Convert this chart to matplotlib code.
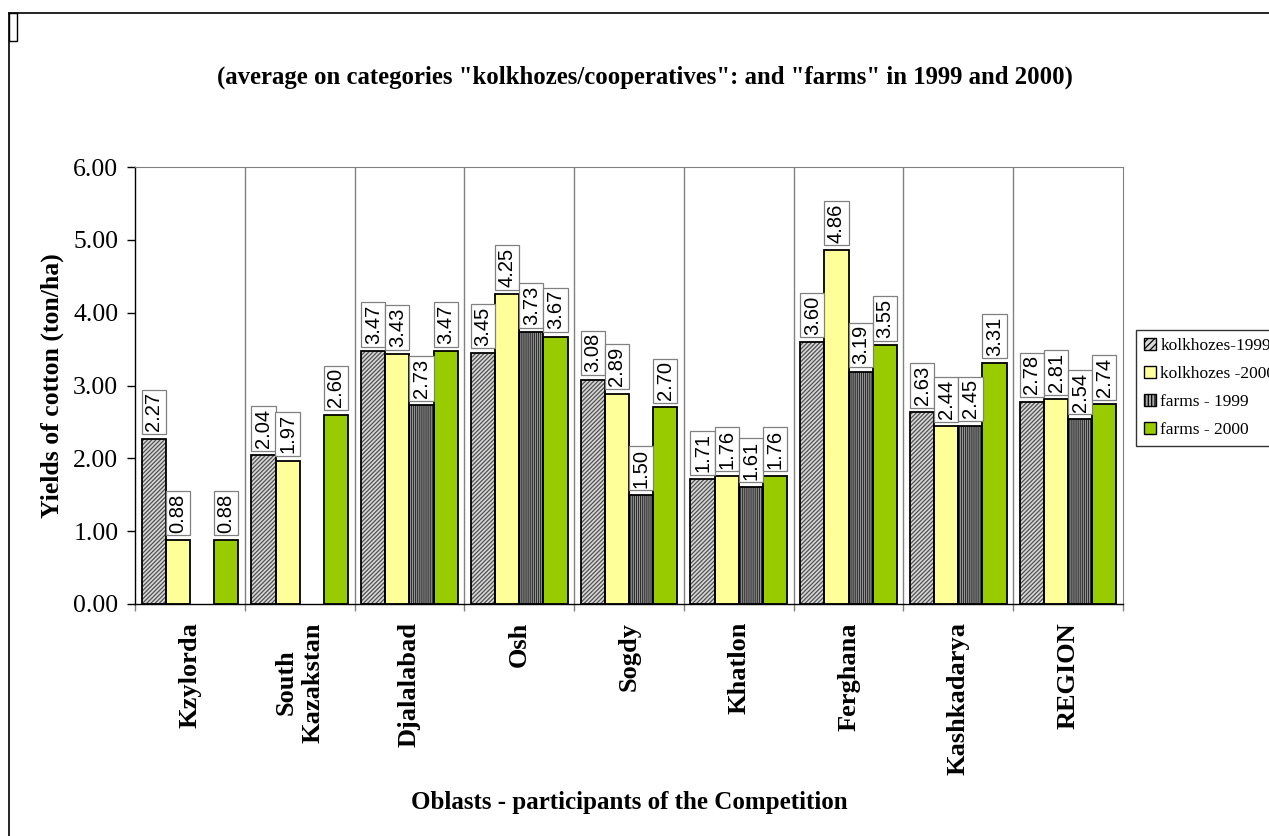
import matplotlib
matplotlib.use('Agg')
import matplotlib.pyplot as plt
import numpy as np
from matplotlib.patches import Patch, Rectangle
from matplotlib.lines import Line2D

oblasts = ['Kzylorda', 'South\nKazakstan', 'Djalalabad', 'Osh', 'Sogdy',
           'Khatlon', 'Ferghana', 'Kashkadarya', 'REGION']
kolkhozes_1999 = [2.27, 2.04, 3.47, 3.45, 3.08, 1.71, 3.60, 2.63, 2.78]
kolkhozes_2000 = [0.88, 1.97, 3.43, 4.25, 2.89, 1.76, 4.86, 2.44, 2.81]
farms_1999 = [np.nan, np.nan, 2.73, 3.73, 1.50, 1.61, 3.19, 2.45, 2.54]
farms_2000 = [0.88, 2.60, 3.47, 3.67, 2.70, 1.76, 3.55, 3.31, 2.74]
series_names = ['kolkhozes-1999', 'kolkhozes -2000', 'farms - 1999', 'farms - 2000']
yticks = [0, 1, 2, 3, 4, 5, 6]

SERIF = 'Liberation Serif'
SANS = 'Liberation Sans'
plt.rcParams['hatch.linewidth'] = 0.9

# face colour, hatch, hatch colour for each series
styles = [
    ('#d8d8d8', '////////', '#505050'),
    ('#FFFF99', None, '#FFFF99'),
    ('#a8a8a8', '||||||||', '#303030'),
    ('#99CC00', None, '#99CC00'),
]

W, H = 1269, 836
fig = plt.figure(figsize=(W / 100, H / 100), dpi=100)
ax = fig.add_axes([135 / W, 1 - 604 / H, (1123 - 135) / W, (604 - 167) / H])

x = np.arange(len(oblasts))
bw = 0.22
offsets = [-1.5 * bw, -0.5 * bw, 0.5 * bw, 1.5 * bw]
all_series = [kolkhozes_1999, kolkhozes_2000, farms_1999, farms_2000]

for vals, off, (fc, hatch, hc) in zip(all_series, offsets, styles):
    vals = np.array(vals, dtype=float)
    ax.bar(x + off, vals, bw, color=fc, hatch=hatch, edgecolor=hc,
           linewidth=0, zorder=2)
    ax.bar(x + off, vals, bw, fill=False, edgecolor='black',
           linewidth=1.3, zorder=3)

# value labels in boxes above every bar
for vals, off in zip(all_series, offsets):
    for xi, v in zip(x, vals):
        if np.isnan(v):
            continue
        ax.annotate(f'{v:.2f}', (xi + off, v), xytext=(0, 5.2),
                    textcoords='offset points', rotation=90,
                    ha='center', va='bottom', fontsize=14.5, family=SANS,
                    bbox=dict(boxstyle='square,pad=0.13', fc='white',
                              ec='#808080', lw=0.9), zorder=5)

# category separators
for b in np.arange(0.5, len(oblasts) - 0.5, 1):
    ax.axvline(b, color='#808080', lw=1, zorder=1)

ax.set_xlim(-0.5, len(oblasts) - 0.5)
ax.set_ylim(0, 6)
ax.set_yticks(yticks)
ax.set_yticklabels([f'{t:.2f}' for t in yticks])
for lab in ax.get_yticklabels():
    lab.set_fontfamily(SERIF)
    lab.set_fontsize(18.5)
ax.tick_params(axis='y', direction='out', length=6, width=1, pad=6)

ax.set_xticks(np.arange(-0.5, len(oblasts), 1))
ax.set_xticklabels([])
ax.tick_params(axis='x', which='major', direction='out', length=5,
               width=1, color='#808080')
ax.set_xticks(x, oblasts, minor=True)
ax.tick_params(axis='x', which='minor', length=0, pad=13)
for lab in ax.get_xticklabels(minor=True):
    lab.set_rotation(90)
    lab.set_fontfamily(SERIF)
    lab.set_fontweight('bold')
    lab.set_fontsize(19)
    lab.set_va('top')
    lab.set_ha('center')
    lab.set_multialignment('center')

for side in ['top', 'right']:
    ax.spines[side].set_color('#808080')
for side in ['left', 'bottom']:
    ax.spines[side].set_color('black')
    ax.spines[side].set_linewidth(1)

ax.set_ylabel('Yields of cotton (ton/ha)', family=SERIF, fontweight='bold',
              fontsize=18.5, labelpad=6.8)
fig.text((135 + 1123) / 2 / W, 1 - 803 / H,
         'Oblasts - participants of the Competition', family=SERIF,
         fontweight='bold', fontsize=18, ha='center', va='center')
fig.text(645 / W, 1 - 77 / H,
         '(average on categories "kolkhozes/cooperatives": and "farms" in 1999 and 2000)',
         family=SERIF, fontweight='bold', fontsize=17.8, ha='center', va='center')

handles = [Patch(facecolor=fc, edgecolor='black', hatch=h[:5] if h else None, lw=1)
           for fc, h, _ in styles]
leg = fig.legend(handles, series_names, loc='upper left',
                 bbox_to_anchor=(1136 / W, 1 - 330 / H),
                 prop={'family': SERIF, 'size': 12.5}, frameon=True,
                 fancybox=False, edgecolor='black', borderpad=0.45,
                 labelspacing=0.68, handlelength=0.7, handleheight=0.7,
                 handletextpad=0.25, borderaxespad=0)
leg.get_frame().set_linewidth(1)

# outer chart border and the small corner mark
fig.add_artist(Line2D([8.5 / W, 8.5 / W], [0, 1 - 12.5 / H], color='black',
                      lw=1.2, transform=fig.transFigure))
fig.add_artist(Line2D([8.5 / W, 1], [1 - 12.5 / H, 1 - 12.5 / H],
                      color='black', lw=1.2, transform=fig.transFigure))
fig.add_artist(Rectangle((8.5 / W, 1 - 41 / H), 8 / W, 28.5 / H,
                         fill=False, ec='black', lw=1,
                         transform=fig.transFigure))

fig.savefig('out.png', dpi=100)
